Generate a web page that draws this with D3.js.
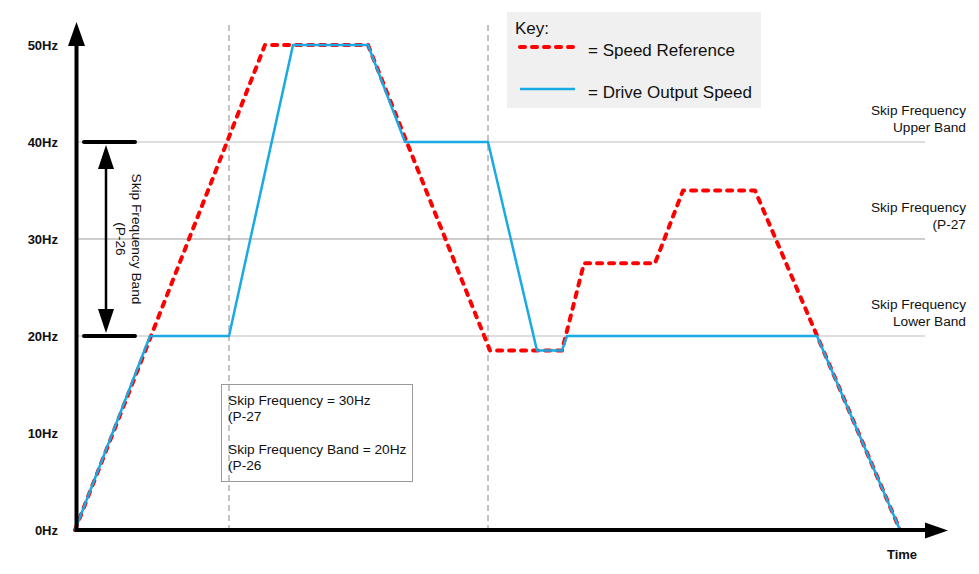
<!DOCTYPE html>
<html><head><meta charset="utf-8">
<script src="https://cdn.jsdelivr.net/npm/d3@7"></script>
<style>
body{margin:0;background:#fff;}
svg{display:block;font-family:"Liberation Sans",Arial,sans-serif;}
</style></head>
<body><svg id="c" width="979" height="574"></svg>
<script>
// ---- data ----
const yTicks = [0, 10, 20, 30, 40, 50];
const gridValues = [20, 30, 40];
const refTime  = [0, 190, 293, 415, 487, 509, 580, 608, 680, 825];
const refSpeed = [0, 50, 50, 18.5, 18.5, 27.5, 27.5, 35, 35, 0];
const outTime  = [0, 75, 154, 218, 293, 330, 413, 462, 487, 492, 742, 825];
const outSpeed = [0, 20, 20, 50, 50, 40, 40, 18.5, 18.5, 20, 20, 0];
const markerTimes = [154, 413];
const skipLabels = [
  {v: 40, lines: ["Skip Frequency", "Upper Band"]},
  {v: 30, lines: ["Skip Frequency", "(P-27"]},
  {v: 20, lines: ["Skip Frequency", "Lower Band"]}
];
const bandLow = 20, bandHigh = 40;
const noteLines = ["Skip Frequency = 30Hz", "(P-27", "", "Skip Frequency Band = 20Hz", "(P-26"];
const legendItems = [{label: "= Speed Reference", key: "ref"}, {label: "= Drive Output Speed", key: "out"}];

// ---- scales ----
const svg = d3.select("#c");
const x = d3.scaleLinear().domain([0, 870]).range([75, 945]);
const y = d3.scaleLinear().domain([0, 50]).range([530, 45]);
const RED = "#ff0000", BLUE = "#19a9e3";
const FS = 13.7;

// grid lines
svg.append("g").selectAll("line").data(gridValues).join("line")
  .attr("x1", x(0)).attr("x2", 925)
  .attr("y1", d => y(d)).attr("y2", d => y(d))
  .attr("stroke", "#bdbdbd").attr("stroke-width", d => d === 30 ? 1.6 : 1.1);

// vertical dashed markers
svg.append("g").selectAll("line").data(markerTimes).join("line")
  .attr("x1", d => x(d)).attr("x2", d => x(d))
  .attr("y1", 25).attr("y2", 528)
  .attr("stroke", "#888").attr("stroke-width", 1).attr("stroke-dasharray", "6,4");

// right labels
const sl = svg.append("g").attr("font-size", FS).attr("fill", "#111").attr("text-anchor", "end");
skipLabels.forEach(s => {
  s.lines.forEach((t, i) => {
    sl.append("text").attr("x", 966).attr("y", y(s.v) - 27 + i * 16.5).text(t);
  });
});

// annotation box
const nb = svg.append("g");
nb.append("rect").attr("x", 221.5).attr("y", 384.5).attr("width", 191).attr("height", 97)
  .attr("fill", "none").attr("stroke", "#9a9a9a").attr("stroke-width", 1);
noteLines.forEach((t, i) => {
  if (t) nb.append("text").attr("x", 228).attr("y", 405 + i * 16.3).attr("font-size", FS).attr("fill", "#111").text(t);
});

// lines
const line = d3.line().x(d => x(d[0])).y(d => y(d[1]));
const refData = refTime.map((t, i) => [t, refSpeed[i]]);
const outData = outTime.map((t, i) => [t, outSpeed[i]]);
svg.append("path").datum(refData).attr("d", line)
  .attr("fill", "none").attr("stroke", RED).attr("stroke-width", 4)
  .attr("stroke-dasharray", "5,7").attr("stroke-linecap", "round").attr("stroke-linejoin", "round");
svg.append("path").datum(outData).attr("d", line)
  .attr("fill", "none").attr("stroke", BLUE).attr("stroke-width", 2.5).attr("stroke-linejoin", "round");

// axes
const yAxis = svg.append("g").attr("transform", "translate(76,0)")
  .call(d3.axisLeft(y).tickValues(yTicks).tickFormat(d => d + "Hz").tickSize(0).tickPadding(18));
yAxis.select(".domain").remove();
yAxis.selectAll("text").attr("font-size", 13).attr("font-weight", "bold").attr("fill", "#111")
  .attr("font-family", "'Liberation Sans',Arial,sans-serif");

svg.append("line").attr("x1", 76.5).attr("x2", 76.5).attr("y1", 532).attr("y2", 40)
  .attr("stroke", "#000").attr("stroke-width", 4);
svg.append("path").attr("d", "M76.5,22 L68,46 L85,46 Z").attr("fill", "#000");
svg.append("line").attr("x1", 75).attr("x2", 930).attr("y1", 530).attr("y2", 530)
  .attr("stroke", "#000").attr("stroke-width", 4);
svg.append("path").attr("d", "M948,530.5 L925,522.5 L925,538.5 Z").attr("fill", "#000");
svg.append("text").attr("x", 902).attr("y", 559).attr("text-anchor", "middle")
  .attr("font-size", 13).attr("font-weight", "bold").attr("fill", "#111").text("Time");

// band arrow
const ba = svg.append("g");
[bandHigh, bandLow].forEach(v => {
  ba.append("line").attr("x1", 84).attr("x2", 135).attr("y1", y(v)).attr("y2", y(v))
    .attr("stroke", "#000").attr("stroke-width", 4).attr("stroke-linecap", "round");
});
ba.append("line").attr("x1", 106).attr("x2", 106).attr("y1", y(bandHigh) + 20).attr("y2", y(bandLow) - 20)
  .attr("stroke", "#000").attr("stroke-width", 2.5);
ba.append("path").attr("d", `M106,${y(bandHigh) + 3} L98,${y(bandHigh) + 27} L114,${y(bandHigh) + 27} Z`).attr("fill", "#000");
ba.append("path").attr("d", `M106,${y(bandLow) - 3} L98,${y(bandLow) - 27} L114,${y(bandLow) - 27} Z`).attr("fill", "#000");
const midY = (y(bandHigh) + y(bandLow)) / 2;
const bt = ba.append("g").attr("transform", `translate(132,${midY}) rotate(90)`);
bt.append("text").attr("x", 0).attr("y", 0).attr("text-anchor", "middle").attr("font-size", FS).attr("fill", "#111").text("Skip Frequency Band");
bt.append("text").attr("x", 0).attr("y", 16).attr("text-anchor", "middle").attr("font-size", FS).attr("fill", "#111").text("(P-26");

// legend
const lg = svg.append("g");
lg.append("rect").attr("x", 507).attr("y", 12).attr("width", 254).attr("height", 96).attr("fill", "#f0f0f0");
lg.append("text").attr("x", 515).attr("y", 34).attr("font-size", 17).attr("fill", "#111").text("Key:");
legendItems.forEach((it, i) => {
  const ly = 47 + i * 42;
  const l = lg.append("line").attr("x1", 520).attr("x2", 575).attr("y1", ly).attr("y2", ly);
  if (it.key === "ref") l.attr("stroke", RED).attr("stroke-width", 4).attr("stroke-dasharray", "5,7").attr("stroke-linecap", "round");
  else l.attr("stroke", BLUE).attr("stroke-width", 2.5);
  lg.append("text").attr("x", 588).attr("y", ly + 9).attr("font-size", 17).attr("fill", "#111").text(it.label);
});
</script></body></html>
